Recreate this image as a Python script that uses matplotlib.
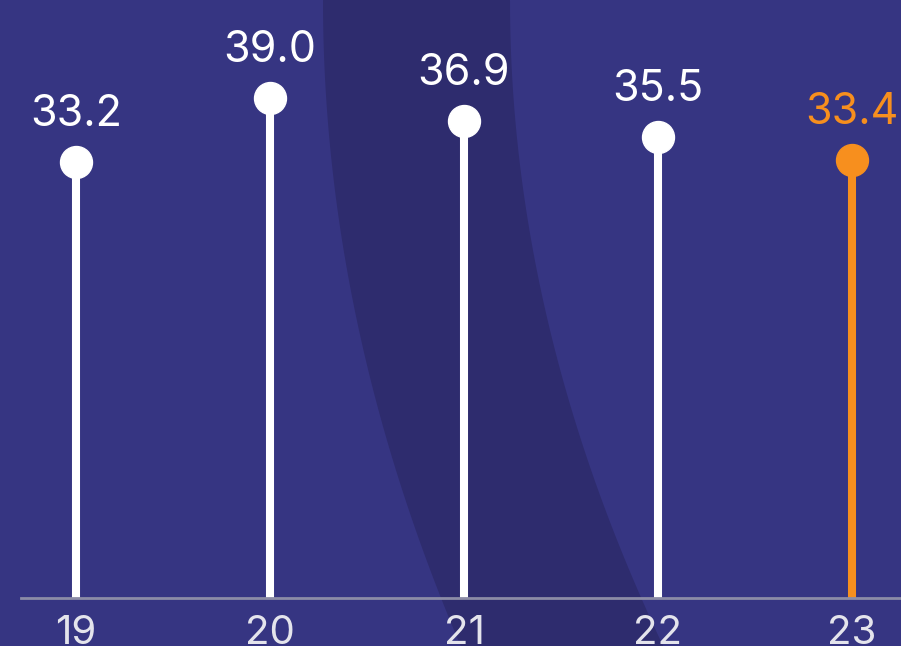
import numpy as np
import matplotlib
matplotlib.use("Agg")
import matplotlib.pyplot as plt
from matplotlib.patches import Polygon

years = ["19", "20", "21", "22", "23"]
values = [33.2, 39.0, 36.9, 35.5, 33.4]
highlight = "23"

bg = "#363582"
band = "#2e2c6e"
white = "#ffffff"
orange = "#f78f1e"

plt.rcParams['font.family'] = ['Inter', 'DejaVu Sans']

fig = plt.figure(figsize=(9.01, 6.46), dpi=100)
fig.patch.set_facecolor(bg)

# darker curved band behind the chart
W, H = 901, 646
ys = np.linspace(0, H, 60)
xl = 323 + 3.3e-4 * ys ** 2
xr = 510 + 3.67e-4 * ys ** 2
pts = [(x / W, 1 - y / H) for x, y in zip(xl, ys)] + \
      [(x / W, 1 - y / H) for x, y in zip(xr[::-1], ys[::-1])]
fig.patches.append(Polygon(pts, closed=True, transform=fig.transFigure,
                           facecolor=band, edgecolor="none", zorder=-5))

ax = fig.add_axes([21 / W, (H - 598) / H, 1 - 21 / W, 598 / H])
ax.patch.set_alpha(0)

base = -6.33
idx = np.arange(len(years))
for i, (yr, v) in enumerate(zip(years, values)):
    c = orange if yr == highlight else white
    ax.plot([i, i], [base, v], color=c, lw=5.8, solid_capstyle="butt", zorder=2)
    ax.plot(i, v, "o", color=c, markersize=23, zorder=3)
    ax.annotate(f"{v:.1f}", (i, v), xytext=(0, 26), textcoords="offset points",
                ha="center", va="baseline", color=c, fontsize=31)

ax.set_xlim(-0.2835, 4.2526)
ax.set_ylim(base, 47.89)
ax.set_xticks(idx)
ax.set_xticklabels(years, color="#e4e4ec", fontsize=29)
ax.tick_params(axis="x", length=0, pad=12)
ax.set_yticks([])
for s in ["top", "right", "left"]:
    ax.spines[s].set_visible(False)
ax.spines["bottom"].set_color("#8c8ca6")
ax.spines["bottom"].set_linewidth(2)

fig.savefig("out.png", dpi=100, facecolor=bg)
